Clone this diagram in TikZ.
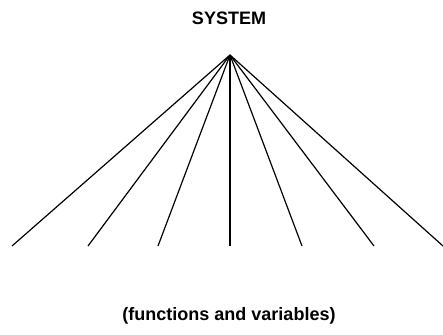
\documentclass[tikz,border=0pt]{standalone}
\usepackage{fontspec}
\setmainfont{Liberation Sans}
\usetikzlibrary{positioning}

\begin{document}
\begin{tikzpicture}[x=1pt, y=-1pt, label text/.style={font=\bfseries\fontsize{18}{20}\selectfont}]
\useasboundingbox (0,0) rectangle (443,334);
\node[label text] (system) at (229,18) {SYSTEM};
\coordinate (apex) at (230,55);
\node[label text] (funcs) at (229,316) {(functions and variables)};
% fan of lines from the apex
\foreach \x [count=\i] in {12,88,158,230,302,374,443} {
  \coordinate (end\i) at (\x,246);
  \draw[line width=1.2pt] (apex) -- (end\i);
}
\end{tikzpicture}
\end{document}
